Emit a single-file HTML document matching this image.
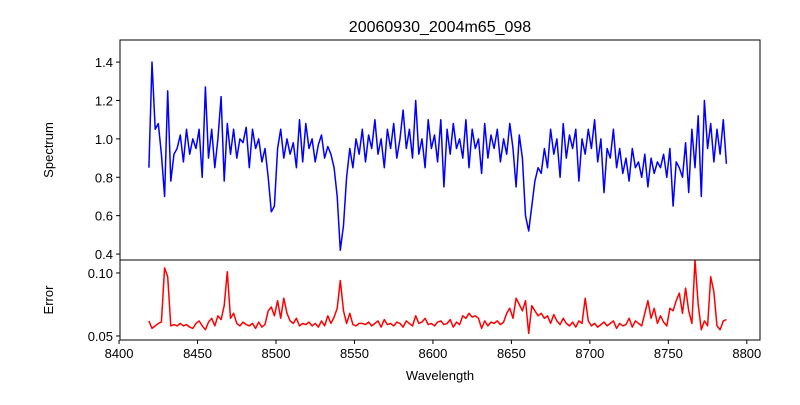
<!DOCTYPE html>
<html><head><meta charset="utf-8"><style>
body{margin:0;background:#fff;font-family:"Liberation Sans",sans-serif}
svg text{font-family:"Liberation Sans",sans-serif;fill:#000}
</style></head><body>
<svg id="chart" width="800" height="400" xmlns="http://www.w3.org/2000/svg">
<rect width="800" height="400" fill="#fff"/>
<text x="440" y="32" font-size="16" text-anchor="middle">20060930_2004m65_098</text>
<text transform="translate(53,150) rotate(-90)" font-size="13" text-anchor="middle">Spectrum</text>
<text transform="translate(53,300) rotate(-90)" font-size="13" text-anchor="middle">Error</text>
<text x="440" y="380" font-size="13" text-anchor="middle">Wavelength</text>
<g id="g"></g>
</svg>
<script>
const lamStart = 8419, lamStep = 2;
const spectrum = [
0.85,1.40,1.05,1.08,0.92,0.70,1.25,0.78,0.92,0.95,
1.02,0.88,1.05,0.92,1.00,0.95,1.05,0.80,1.27,0.90,
1.05,0.85,1.00,1.22,0.78,1.08,0.92,1.05,0.90,1.00,
0.98,1.06,0.85,1.05,0.95,1.00,0.88,0.95,0.80,0.62,
0.65,0.95,1.05,0.90,1.00,0.92,0.98,0.85,1.10,0.88,
1.08,0.95,1.00,0.88,0.97,1.02,0.90,0.96,0.92,0.85,
0.70,0.42,0.55,0.80,0.95,0.85,1.00,0.92,1.05,0.88,
1.02,0.95,1.10,0.92,1.00,0.85,1.05,0.95,1.08,0.90,
1.00,1.15,0.95,1.05,0.90,1.20,0.92,1.00,0.85,1.10,
0.95,1.02,0.88,1.10,0.75,1.05,0.92,1.08,0.95,1.00,
0.90,1.10,0.85,1.05,0.95,1.00,0.82,1.08,0.90,1.02,
0.95,1.05,0.88,1.00,0.92,1.08,0.95,0.75,1.02,0.90,
0.60,0.52,0.65,0.78,0.85,0.82,0.95,0.85,1.05,0.92,
1.00,0.80,1.08,0.90,1.02,0.95,1.05,0.78,1.00,0.92,
1.05,0.95,1.10,0.88,1.00,0.72,0.95,0.90,1.05,0.85,
0.95,0.82,0.90,0.78,0.95,0.85,0.88,0.80,0.92,0.75,
0.90,0.82,0.88,0.85,0.92,0.80,0.95,0.65,0.88,0.85,
0.80,0.98,0.72,1.05,0.85,1.12,0.70,1.20,0.95,1.08,
0.88,1.05,0.92,1.10,0.87];
const errors = [
.062,.056,.058,.060,.061,.104,.097,.058,.059,.058,
.060,.058,.059,.057,.056,.060,.062,.058,.055,.061,
.064,.058,.066,.063,.074,.101,.064,.068,.060,.058,
.061,.059,.058,.060,.056,.061,.057,.059,.070,.073,
.066,.078,.064,.080,.068,.062,.060,.064,.058,.060,
.059,.061,.058,.060,.057,.062,.058,.066,.060,.065,
.072,.094,.070,.060,.068,.059,.058,.060,.060,.059,
.061,.058,.060,.062,.057,.063,.059,.060,.058,.061,
.060,.057,.062,.060,.058,.066,.060,.061,.064,.059,
.060,.058,.061,.062,.059,.060,.063,.057,.061,.059,
.066,.064,.068,.065,.066,.064,.056,.062,.058,.061,
.060,.062,.059,.061,.068,.072,.064,.080,.075,.070,
.078,.052,.074,.070,.066,.068,.064,.066,.060,.067,
.062,.059,.064,.060,.058,.061,.057,.062,.060,.080,
.062,.058,.060,.057,.059,.061,.058,.060,.062,.056,
.060,.058,.059,.064,.057,.062,.060,.058,.068,.078,
.064,.072,.060,.066,.061,.058,.072,.070,.078,.084,
.068,.088,.070,.060,.110,.075,.055,.062,.058,.097,
.085,.058,.055,.062,.063];
const xTicks = [8400,8450,8500,8550,8600,8650,8700,8750,8800];
const specTicks = [0.4,0.6,0.8,1.0,1.2,1.4];
const errTicks = [0.05,0.10];

const NS="http://www.w3.org/2000/svg", g=document.getElementById('g');
const L=120,R=760,T1=40,B1=260,T2=260,B2=340;
const xmin=8400.6,xmax=8808.4;
const X=v=>L+(v-xmin)/(xmax-xmin)*(R-L);
const Y1=v=>B1-(v-0.369)/(1.515-0.369)*(B1-T1);
const Y2=v=>B2-(v-0.0468)/(0.1103-0.0468)*(B2-T2);
function mk(tag,a){const e=document.createElementNS(NS,tag);for(const k in a)e.setAttribute(k,a[k]);g.appendChild(e);return e;}
function line(arr,Y,color,name){
  const p=arr.map((v,i)=>X(lamStart+i*lamStep).toFixed(1)+','+Y(v).toFixed(1)).join(' ');
  const e=mk('polyline',{points:p,fill:'none',stroke:color,'stroke-width':1.5,'stroke-linejoin':'round'});
  
  
}
line(spectrum,Y1,'#0000ff','spectrum-line');
line(errors,Y2,'#ff0000','error-line');
const f1=mk('rect',{x:L,y:T1,width:R-L,height:B1-T1,fill:'none',stroke:'#000','stroke-width':1});


const f2=mk('rect',{x:L,y:T2,width:R-L,height:B2-T2,fill:'none',stroke:'#000','stroke-width':1});


xTicks.forEach(t=>{
  const x=X(t);
  mk('line',{x1:x,x2:x,y1:B2,y2:B2+4,stroke:'#000'});
  const tx=mk('text',{x:x,y:B2+18,'font-size':13,'text-anchor':'middle'});tx.textContent=t;
  
  
});
specTicks.forEach(t=>{
  const y=Y1(t);
  mk('line',{x1:L-4,x2:L,y1:y,y2:y,stroke:'#000'});
  const tx=mk('text',{x:L-7,y:y+5,'font-size':13,'text-anchor':'end'});tx.textContent=t.toFixed(1);
  
  
});
errTicks.forEach(t=>{
  const y=Y2(t);
  mk('line',{x1:L-4,x2:L,y1:y,y2:y,stroke:'#000'});
  const tx=mk('text',{x:L-7,y:y+5,'font-size':13,'text-anchor':'end'});tx.textContent=t.toFixed(2);
  
  
});
</script>
</body></html>
